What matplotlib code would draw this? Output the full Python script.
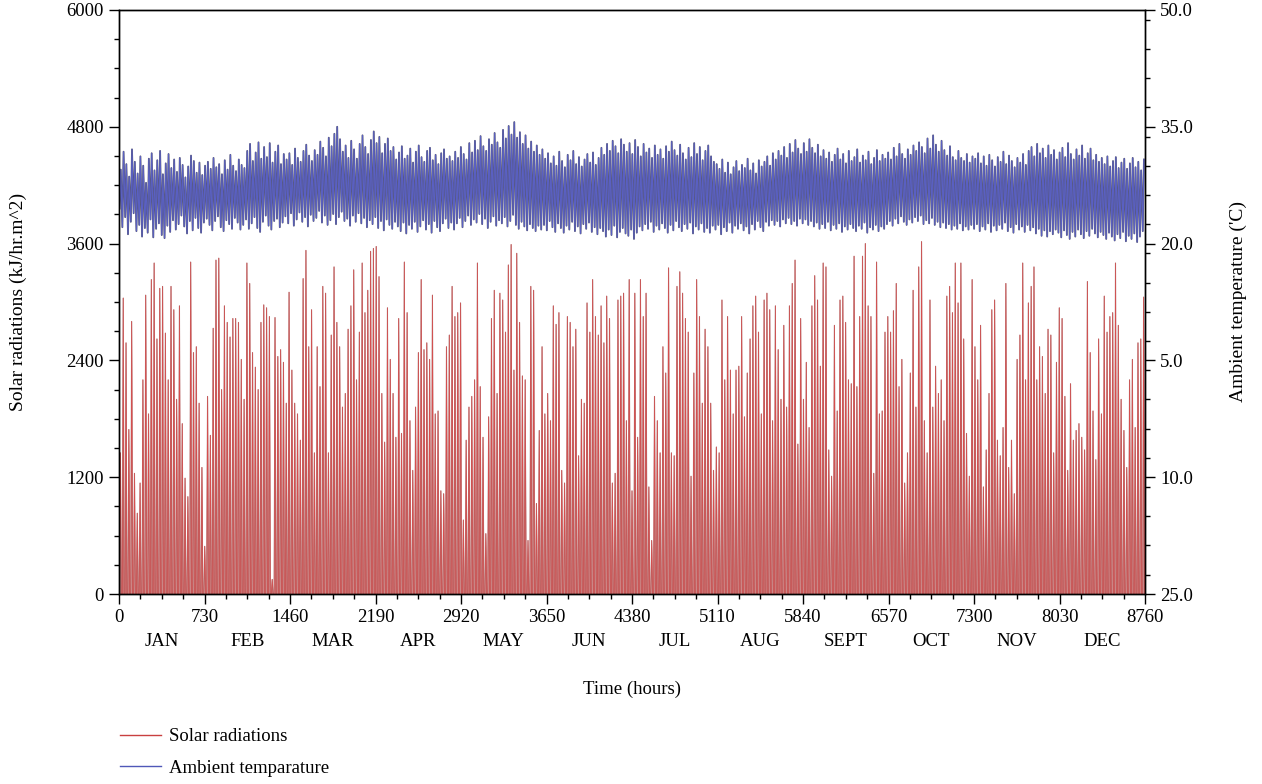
import numpy as np
import matplotlib.pyplot as plt
from matplotlib.lines import Line2D
from matplotlib.ticker import MultipleLocator

plt.rcParams['font.family'] = ['Liberation Serif', 'DejaVu Serif']

# ---- data: one value per day ----
# daily peak of the solar radiation curve (kJ/hr.m^2)
solar_peak = [
    # days 0-61
    1450, 3040, 2580, 1690, 2800, 1240, 830, 1140, 2200, 3070, 1850, 3230, 3400, 2620, 3140, 3160,
    2680, 2200, 3160, 2920, 2000, 2960, 1750, 1190, 1000, 3410, 2480, 2540, 1960, 1300, 490, 2030,
    1630, 2730, 3430, 3450, 2100, 2960, 2790, 2640, 2830, 2830, 2790, 2410, 2000, 3400, 3190, 2480,
    2330, 2100, 2790, 2970, 2940, 2850, 150, 2840, 2440, 2510, 2380, 1960, 3100, 2300,
    # days 62-124
    1960, 1850, 1580, 3240, 3530, 2540, 2920, 1450, 2540, 2130, 3160, 3090, 1450, 2660, 3360, 2790,
    2540, 1920, 2060, 2720, 2960, 3330, 2200, 2690, 3400, 2890, 3120, 3520, 3550, 3570, 3260, 2060,
    1560, 2940, 2410, 2060, 1610, 2830, 1650, 3410, 2890, 1780, 1270, 1920, 2480, 3230, 2510, 2580,
    2410, 3070, 1850, 1880, 1060, 1030, 2540, 2660, 3160, 2850, 2890, 2990, 760, 1580, 1920,
    # days 125-186
    2030, 2200, 3400, 2130, 1610, 620, 1820, 2830, 3120, 2060, 3090, 3020, 2690, 3380, 3590, 2300,
    3500, 2790, 2240, 2200, 550, 3160, 3120, 930, 1680, 2540, 1850, 2060, 1780, 2960, 2770, 2890,
    1270, 1140, 2850, 2790, 2540, 2720, 1420, 2000, 1960, 2990, 2690, 3230, 2850, 2660, 2960, 2580,
    3060, 2830, 1140, 1240, 3020, 3060, 3090, 1780, 3230, 1060, 3090, 1610, 3230, 2850,
    # days 187-249
    3090, 1100, 550, 2030, 1780, 1450, 2540, 2270, 3350, 1450, 1420, 3160, 3310, 3090, 2830, 2690,
    1210, 2270, 3230, 2850, 1960, 2720, 2540, 1960, 1270, 1510, 1450, 3020, 2200, 2850, 2300, 1850,
    2300, 2340, 2850, 1820, 2270, 2620, 2960, 3060, 2690, 1850, 3020, 3090, 2920, 1780, 2960, 2510,
    2000, 2760, 1920, 2960, 3190, 3430, 1540, 2830, 2000, 2380, 1710, 2960, 3270, 3020, 2340,
    # days 250-311
    3400, 3360, 1480, 1210, 2760, 1880, 3020, 3060, 2790, 2200, 2160, 3470, 2130, 2850, 3470, 3600,
    2960, 2850, 1240, 3410, 1850, 1880, 2690, 2850, 2690, 2910, 3190, 2130, 2410, 1140, 1450, 2270,
    3120, 1920, 3360, 3620, 1780, 1450, 3020, 1920, 2340, 2060, 2200, 1780, 3060, 3160, 2890, 3400,
    2990, 3400, 2620, 1650, 1210, 3230, 2540, 2200, 2760, 1100, 1480, 2060, 2920, 3020,
    # days 312-364
    1580, 1420, 1710, 3190, 1300, 1580, 1030, 2410, 2660, 3400, 2200, 2990, 3160, 3360, 2200, 2540,
    2440, 2060, 2720, 2660, 1450, 2380, 2940, 2830, 2030, 1270, 2160, 1580, 1680, 1750, 1610, 1480,
    3210, 2480, 1880, 1380, 2620, 1850, 3060, 2690, 2850, 2890, 3400, 2760, 2000, 1680, 1300, 2200,
    2410, 1710, 2580, 2620, 3050,
]

# daily maximum ambient temperature ('C)
temp_max = [
    29.5, 31.8, 30.2, 28.6, 32.1, 30.5, 29.0, 31.2, 30.0, 27.8, 30.9, 31.6, 29.4, 30.7, 31.9, 28.9,
    30.3, 31.5, 29.7, 30.8, 29.2, 31.0, 30.1, 28.5, 29.9, 31.3, 30.6, 29.1, 30.4, 28.8, 30.0,
    30.5, 29.6, 31.0, 29.8, 30.2, 28.9, 30.7, 29.5, 31.4, 30.0, 29.3, 30.8, 30.1, 29.7, 31.9, 32.8,
    30.6, 31.7, 33.0, 30.9, 32.4, 31.1, 32.9, 30.4, 31.8, 32.6, 30.2, 31.5,
    30.8, 31.6, 30.1, 32.2, 31.0, 30.5, 31.9, 32.7, 31.3, 30.6, 32.0, 31.4, 33.1, 32.3, 31.2, 33.6,
    32.5, 34.1, 35.0, 33.4, 31.8, 32.6, 31.0, 33.2, 32.1, 30.9, 32.8, 33.9, 32.4, 31.5, 33.3,
    34.4, 32.9, 33.7, 31.6, 32.8, 33.5, 31.9, 32.4, 30.8, 31.7, 32.5, 30.9, 31.3, 32.2, 30.4, 31.8,
    32.6, 31.1, 30.5, 31.9, 32.3, 30.7, 31.4, 30.2, 31.6, 32.1, 30.9, 31.2, 30.6, 31.8,
    31.0, 32.4, 31.5, 30.8, 32.9, 31.7, 33.2, 32.0, 33.8, 32.5, 31.9, 33.4, 32.7, 34.2, 33.0, 32.3,
    34.6, 33.5, 35.1, 34.0, 35.6, 33.6, 34.3, 32.8, 33.9, 32.2, 33.1, 31.8, 32.6, 31.4, 32.1,
    30.9, 31.6, 30.3, 31.2, 30.0, 31.8, 30.6, 29.8, 31.4, 30.7, 31.9, 30.2, 31.1, 29.9, 30.8, 31.5,
    30.4, 31.7, 30.1, 31.0, 32.3, 31.4, 32.8, 31.9, 33.2, 32.5, 31.6, 33.4, 32.7, 31.8,
    32.9, 31.5, 33.3, 32.4, 31.2, 32.8, 31.7, 32.2, 31.0, 32.6, 31.4, 32.1, 30.9, 32.5, 31.8, 33.1,
    32.0, 31.3, 32.7, 31.6, 30.8, 32.3, 31.1, 32.9, 31.5, 32.4, 30.7, 31.9, 32.6, 31.2, 30.5,
    30.2, 29.6, 30.8, 29.1, 30.4, 28.9, 29.8, 30.6, 29.3, 30.1, 29.7, 30.9, 29.4, 30.3, 29.0, 30.7,
    29.9, 30.5, 31.2, 30.0, 31.6, 30.8, 31.9, 31.3, 32.4, 31.0, 32.8, 31.7, 33.3, 32.2, 31.5,
    32.9, 31.8, 33.4, 32.3, 31.6, 32.7, 31.2, 32.0, 30.9, 31.7, 30.5, 31.4, 32.2, 30.8, 31.5, 30.3,
    31.9, 30.6, 31.1, 32.1, 30.4, 31.3, 30.7, 31.8, 30.2, 31.0, 32.0, 30.6, 31.4, 30.9,
    31.7, 30.8, 32.3, 31.2, 32.8, 31.5, 30.9, 32.1, 31.4, 32.6, 31.9, 33.0, 32.4, 31.6, 33.5, 32.2,
    33.9, 32.7, 31.8, 33.2, 32.0, 31.3, 32.5, 31.1, 30.7, 31.9, 31.0, 30.6, 31.5, 30.4, 31.2,
    30.9, 31.6, 30.3, 31.2, 30.0, 31.4, 30.7, 29.9, 31.1, 30.5, 31.8, 30.2, 31.3, 30.6, 29.8, 31.0,
    30.4, 31.5, 30.1, 31.9, 32.4, 31.2, 32.8, 31.6, 32.2, 31.0, 32.6, 31.4, 32.0, 30.8,
    31.7, 32.3, 31.1, 32.9, 31.5, 30.8, 32.1, 31.3, 32.6, 30.9, 31.6, 32.2, 30.7, 31.4, 30.5, 31.0,
    30.2, 31.2, 29.9, 30.6, 31.1, 29.7, 30.4, 30.9, 29.6, 30.3, 31.0, 29.8, 30.5, 29.4, 30.8,
]

# daily minimum ambient temperature ('C)
temp_min = [
    24.5, 22.1, 23.4, 21.2, 22.8, 23.9, 21.6, 22.4, 20.9, 22.0, 21.4, 23.1, 20.8, 21.9, 22.6, 21.1,
    20.7, 22.3, 21.5, 23.0, 21.8, 22.5, 23.6, 22.2, 21.3, 22.9, 21.7, 23.3, 22.0, 21.4, 22.7,
    23.2, 22.4, 21.7, 22.9, 23.5, 22.1, 21.6, 23.0, 22.5, 21.9, 23.3, 22.7, 21.8, 22.4, 23.1, 21.9,
    22.6, 23.4, 22.0, 21.5, 22.8, 23.6, 22.3, 21.8, 22.9, 23.2, 22.1, 22.7,
    23.5, 22.6, 23.9, 22.3, 23.1, 24.0, 22.8, 23.4, 22.2, 23.7, 22.9, 23.3, 24.2, 22.7, 23.6, 22.4,
    23.0, 23.8, 22.5, 23.4, 24.1, 22.9, 23.2, 22.3, 23.6, 22.8, 23.9, 22.6, 23.3, 22.1, 23.0,
    22.5, 23.4, 22.0, 22.9, 21.7, 23.1, 22.4, 21.9, 22.8, 22.2, 21.6, 22.7, 21.3, 22.4, 21.9, 22.8,
    21.5, 22.2, 23.0, 21.8, 22.5, 21.4, 22.9, 22.1, 21.6, 22.6, 23.2, 22.0, 22.7, 21.8,
    22.6, 23.3, 22.1, 22.9, 23.6, 22.4, 23.1, 22.7, 23.8, 22.5, 23.2, 22.0, 22.8, 23.5, 22.3, 23.0,
    22.6, 23.4, 22.2, 22.9, 23.7, 22.4, 21.9, 22.8, 22.2, 21.7, 22.5, 22.0, 21.6, 22.3, 21.8,
    22.4, 21.7, 22.9, 22.1, 21.5, 22.6, 22.0, 21.4, 22.3, 21.8, 22.8, 21.6, 22.2, 21.3, 22.5, 21.9,
    22.7, 21.5, 22.1, 21.2, 22.0, 21.6, 20.9, 21.8, 21.1, 22.3, 20.8, 21.5, 22.0, 21.3,
    21.0, 21.8, 20.6, 21.4, 22.2, 21.7, 22.5, 21.9, 22.8, 21.5, 22.3, 21.8, 22.6, 22.0, 21.4, 22.4,
    21.7, 22.9, 22.1, 21.6, 22.5, 21.9, 22.7, 21.3, 22.2, 21.8, 22.6, 21.5, 22.0, 21.4, 22.3,
    21.8, 22.4, 21.2, 22.1, 21.6, 22.7, 21.4, 22.3, 21.9, 22.6, 21.7, 22.2, 21.3, 22.5, 21.8, 22.9,
    22.1, 21.6, 22.8, 22.3, 23.0, 22.4, 22.9, 22.2, 23.1, 22.6, 23.3, 22.5, 22.9, 22.3, 23.2,
    22.6, 23.1, 22.4, 22.9, 22.2, 22.7, 21.9, 22.5, 22.0, 22.8, 21.7, 22.4, 21.9, 22.6, 21.5, 22.2,
    21.8, 22.5, 22.0, 21.6, 22.3, 21.9, 22.7, 21.4, 22.1, 21.8, 22.4, 21.6, 22.2, 21.9,
    22.5, 22.9, 22.3, 23.2, 22.6, 23.5, 22.8, 22.4, 23.1, 22.7, 23.4, 22.9, 23.6, 22.5, 23.0, 22.6,
    23.3, 22.4, 22.8, 22.1, 22.7, 22.0, 22.5, 21.8, 22.3, 21.9, 22.6, 21.7, 22.2, 21.8, 22.4,
    21.9, 22.5, 21.6, 22.2, 21.8, 22.6, 21.5, 22.3, 21.7, 22.4, 21.9, 22.7, 21.6, 22.1, 21.4, 22.5,
    21.8, 22.2, 21.5, 22.4, 21.7, 22.1, 21.3, 21.9, 21.0, 21.7, 20.9, 21.6, 21.2, 21.8,
    21.4, 20.8, 21.7, 21.1, 20.6, 21.5, 20.9, 21.8, 21.2, 20.7, 21.6, 21.0, 21.9, 21.3, 20.8, 21.5,
    21.1, 20.6, 21.4, 20.9, 20.4, 21.2, 20.7, 21.5, 20.3, 21.0, 20.6, 21.3, 20.2, 20.9, 21.6,
]

x_ticks = [0, 730, 1460, 2190, 2920, 3650, 4380, 5110, 5840, 6570, 7300, 8030, 8760]
months = ['JAN', 'FEB', 'MAR', 'APR', 'MAY', 'JUN', 'JUL', 'AUG', 'SEPT', 'OCT', 'NOV', 'DEC']
month_pos = [365, 1095, 1825, 2555, 3285, 4015, 4745, 5475, 6205, 6935, 7665, 8395]
solar_ticks = [0, 1200, 2400, 3600, 4800, 6000]
temp_ticks = [-25, -10, 5, 20, 35, 50]
temp_labels = ['25.0', '10.0', '5.0', '20.0', '35.0', '50.0']

#==================================#
# day values -> curve points (night zero, noon peak / morning min, afternoon max)
n = len(solar_peak)
hd = 8760.0 / n
d0 = np.arange(n) * hd
sx = np.column_stack([d0 + 0.2 * hd, d0 + 0.5 * hd, d0 + 0.8 * hd]).ravel()
sy = np.column_stack([np.zeros(n), solar_peak, np.zeros(n)]).ravel()

m = len(temp_max)
hd2 = 8760.0 / m
d1 = np.arange(m) * hd2
tx = np.column_stack([d1 + 0.2 * hd2, d1 + 0.62 * hd2]).ravel()
ty = np.column_stack([temp_min[:m], temp_max]).ravel()

FS = 13.5
fig = plt.figure(figsize=(12.62, 7.84), dpi=100)
ax = fig.add_axes([0.0943, 0.2423, 0.813, 0.745])
ax2 = ax.twinx()

ax.fill_between(sx, 0, sy, color='#e48888', lw=0)
ax.plot(sx, sy, color='#a87474', lw=0.8)
ax.plot(sx, sy, color='#d64e4e', lw=0.5)
ax2.plot(tx, ty, color='#55556e', lw=1.3)
ax2.plot(tx, ty, color='#5a60c2', lw=0.8)

ax.set_xlim(0, 8760)
ax.set_ylim(0, 6000)
ax2.set_ylim(-25, 50)

ax.set_xticks(x_ticks)
ax.xaxis.set_minor_locator(MultipleLocator(182.5))
ax.set_yticks(solar_ticks)
ax.yaxis.set_minor_locator(MultipleLocator(300))
ax2.set_yticks(temp_ticks, labels=temp_labels)
ax2.yaxis.set_minor_locator(MultipleLocator(3.75))

for a in (ax, ax2):
    a.tick_params(which='major', direction='out', length=7, width=1, labelsize=FS, pad=4)
    a.tick_params(which='minor', direction='out', length=3.5, width=1)
    for s in a.spines.values():
        s.set_linewidth(1)
ax2.tick_params(axis='x', which='both', bottom=False, top=False)

xtr = ax.get_xaxis_transform()
for mp, mn in zip(month_pos, months):
    ax.text(mp, -0.082, mn, transform=xtr, ha='center', va='center', fontsize=FS)

fig.text(0.501, 0.121, 'Time (hours)', ha='center', va='center', fontsize=FS)
fig.text(0.0143, 0.615, 'Solar radiations (kJ/hr.m^2)', rotation=90,
         ha='center', va='center', fontsize=14)
fig.text(0.981, 0.615, "Ambient temperature ('C)", rotation=90,
         ha='center', va='center', fontsize=14)

handles = [Line2D([], [], color='#c94040', lw=1),
           Line2D([], [], color='#5058b8', lw=1)]
fig.legend(handles, ['Solar radiations', 'Ambient temparature'], loc='upper left',
           bbox_to_anchor=(0.095, 0.071), frameon=False, fontsize=FS,
           handlelength=2.2, handletextpad=0.4, labelspacing=0.75,
           borderaxespad=0, borderpad=0)

fig.savefig('out.png', dpi=100)
